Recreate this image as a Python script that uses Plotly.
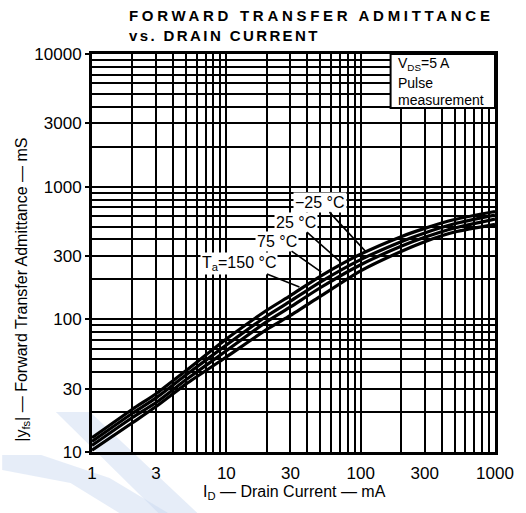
import plotly.graph_objects as go
import math

# ---- data ----
drain_current_mA = [1, 2, 3, 5, 10, 20, 30, 50, 100, 200, 300, 500, 1000]
yfs_m25C = [12.8, 21.0, 27.5, 41, 71, 117, 151, 211, 310, 420, 485, 565, 650]
yfs_25C = [12.0, 19.6, 25.6, 38, 64, 106, 137, 191, 282, 385, 448, 525, 610]
yfs_75C = [11.2, 18.2, 23.6, 35, 58, 96, 124, 173, 258, 355, 415, 488, 570]
yfs_150C = [10.3, 16.6, 22.0, 32.5, 52, 84, 107, 149, 232, 325, 385, 455, 520]

series = [("−25 °C", yfs_m25C), ("25 °C", yfs_25C), ("75 °C", yfs_75C), ("T<sub>a</sub>=150 °C", yfs_150C)]

x_tickvals = [1, 3, 10, 30, 100, 300, 1000]
x_ticktext = ["1", "3", "10", "30", "100", "300", "1000"]
y_tickvals = [10, 30, 100, 300, 1000, 3000, 10000]
y_ticktext = ["10", "30", "100", "300", "1000", "3000", "10000"]

x_minor = [m * 10 ** d for d in range(0, 3) for m in range(1, 10)] + [1000]
y_minor = [m * 10 ** d for d in range(1, 4) for m in range(1, 10)] + [10000]

# label anchor points on the curves (data coords) and text offsets (px)
label_tips = [(110, 321, -46, -50), (71, 270, -45, -40), (51, 227, -44, -31), (35, 175, -60, -24)]

FONT = "Liberation Sans"

fig = go.Figure()
for name, vals in series:
    fig.add_trace(go.Scatter(x=drain_current_mA, y=vals, mode="lines", name=name,
                             line=dict(color="black", width=3.2, shape="spline", smoothing=0.6),
                             showlegend=False, hoverinfo="skip"))

axis_common = dict(type="log", showline=True, linecolor="black", linewidth=3, mirror=True,
                   showgrid=True, gridcolor="black", gridwidth=1.6, zeroline=False,
                   tickfont=dict(family=FONT, size=17, color="black"))

fig.update_xaxes(**axis_common, range=[0, 3], tickmode="array", tickvals=x_tickvals,
                 ticktext=x_ticktext, ticks="", ticklabelstandoff=4,
                 minor=dict(tickmode="array", tickvals=x_minor, showgrid=True,
                            gridcolor="black", gridwidth=1.6, ticks=""))
fig.update_yaxes(**axis_common, range=[1, 4], tickmode="array", tickvals=y_tickvals,
                 ticktext=y_ticktext, ticks="outside", ticklen=4, tickwidth=1.5, tickcolor="black",
                 minor=dict(tickmode="array", tickvals=y_minor, showgrid=True,
                            gridcolor="black", gridwidth=1.6, ticks=""))

annotations = []
for (name, _), (tx, ty, ax, ay) in zip(series, label_tips):
    annotations.append(dict(x=math.log10(tx), y=math.log10(ty), xref="x", yref="y",
                            text=name, showarrow=True, arrowhead=0, arrowwidth=1.6,
                            arrowcolor="black", ax=ax, ay=ay, bgcolor="white",
                            borderpad=1, font=dict(family=FONT, size=16, color="black")))

L, W, T, H = 92, 413, 54, 398
def px(xp, yp):
    return (xp - L) / W, (T + H - yp) / H

tx1, ty1 = px(128, 16)
annotations.append(dict(x=tx1, y=ty1, xref="paper", yref="paper", xanchor="left", yanchor="middle",
                        text='<span style="letter-spacing:3.7px"><b>FORWARD TRANSFER ADMITTANCE</b></span>',
                        showarrow=False, font=dict(family=FONT, size=15, color="black")))
tx2, ty2 = px(128, 36)
annotations.append(dict(x=tx2, y=ty2, xref="paper", yref="paper", xanchor="left", yanchor="middle",
                        text='<span style="letter-spacing:2.4px"><b>vs. DRAIN CURRENT</b></span>',
                        showarrow=False, font=dict(family=FONT, size=15, color="black")))
xt, yt = px(300, 492)
annotations.append(dict(x=xt, y=yt, xref="paper", yref="paper", xanchor="center", yanchor="middle",
                        text="I<sub>D</sub> — Drain Current — mA",
                        showarrow=False, font=dict(family=FONT, size=16, color="black")))
yx, yy = px(20, 290)
annotations.append(dict(x=yx, y=yy, xref="paper", yref="paper", xanchor="center", yanchor="middle",
                        textangle=-90,
                        text="|y<sub>fs</sub>| — Forward Transfer Admittance — mS",
                        showarrow=False, font=dict(family=FONT, size=16, color="black")))

# condition box text
for txt, ypx in [("V<sub>DS</sub>=5 A", 64), ("Pulse", 83), ("measurement", 100)]:
    bx, by = px(404, ypx)
    annotations.append(dict(x=bx, y=by, xref="paper", yref="paper", xanchor="left", yanchor="middle",
                            text=txt, showarrow=False, font=dict(family=FONT, size=14, color="black")))

bx0, by0 = px(398, 108)
shapes = [dict(type="rect", xref="paper", yref="paper", x0=bx0, x1=1.0, y0=by0, y1=1.0,
               fillcolor="white", line=dict(color="black", width=2), layer="above")]

# faint watermark stripes seen in the scan
def path(points):
    s = ""
    for i, (a, b) in enumerate(points):
        xp, yp = px(a, b)
        s += ("M" if i == 0 else "L") + f"{xp:.4f},{yp:.4f} "
    return s + "Z"

shapes.append(dict(type="path", xref="paper", yref="paper", layer="below",
                   path=path([(55, 412), (90, 412), (200, 513), (160, 513)]),
                   fillcolor="rgba(200,215,240,0.45)", line=dict(width=0)))
shapes.append(dict(type="path", xref="paper", yref="paper", layer="below",
                   path=path([(0, 455), (40, 455), (110, 478), (170, 513), (120, 513), (70, 483), (0, 470)]),
                   fillcolor="rgba(200,215,240,0.45)", line=dict(width=0)))

fig.update_layout(width=526, height=513, margin=dict(l=L, r=526 - L - W, t=T, b=513 - T - H),
                  paper_bgcolor="white", plot_bgcolor="white",
                  annotations=annotations, shapes=shapes,
                  font=dict(family=FONT, color="black"))

fig.write_html("out.html")
